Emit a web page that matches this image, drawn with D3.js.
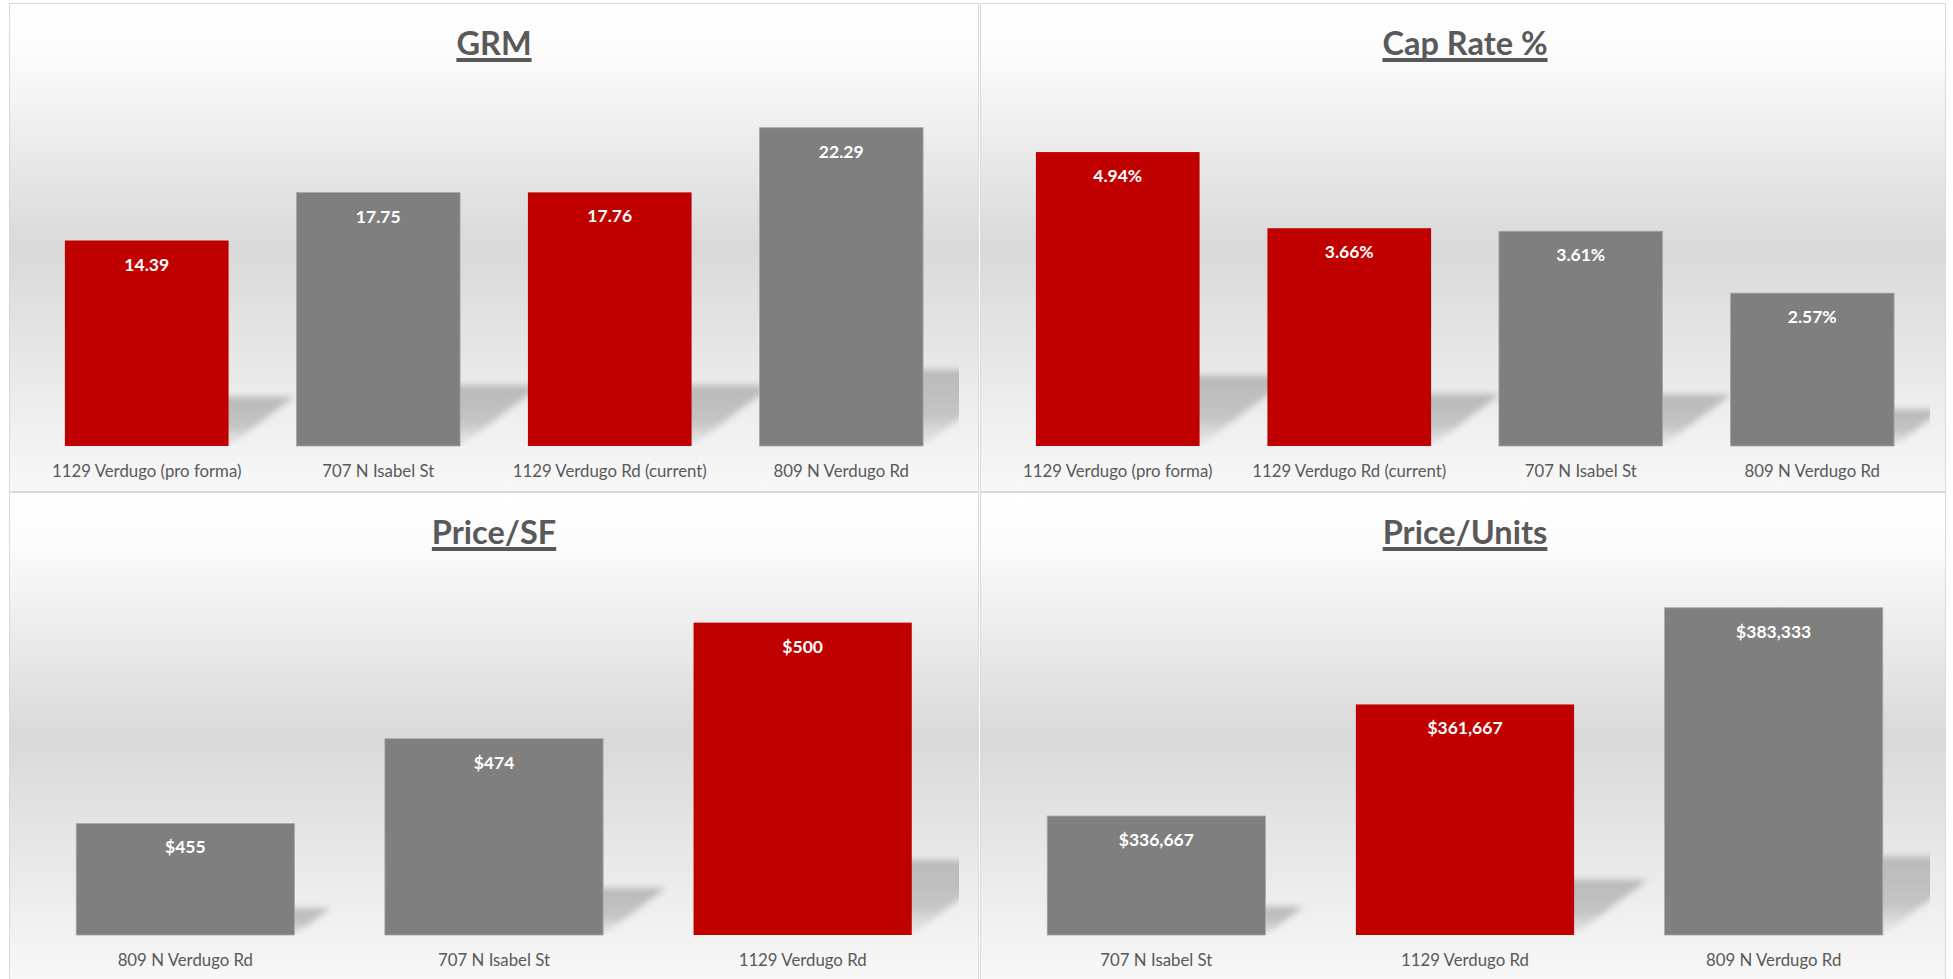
<!DOCTYPE html>
<html>
<head>
<meta charset="utf-8">
<title>Comparables</title>
<style>
  body { margin: 0; background: #ffffff; }
  svg { display: block; }
  text { font-family: Lato, "Open Sans", sans-serif; }
</style>
</head>
<body>
<div id="chart"></div>
<script src="https://d3js.org/d3.v7.min.js"></script>
<script>
// data
var grmCats = ["1129 Verdugo (pro forma)", "707 N Isabel St", "1129 Verdugo Rd (current)", "809 N Verdugo Rd"];
var grmValues = [14.39, 17.75, 17.76, 22.29];
var grmDomain = [0, 25];

var capCats = ["1129 Verdugo (pro forma)", "1129 Verdugo Rd (current)", "707 N Isabel St", "809 N Verdugo Rd"];
var capValues = [0.0494, 0.0366, 0.0361, 0.0257];
var capDomain = [0, 0.06];

var psfCats = ["809 N Verdugo Rd", "707 N Isabel St", "1129 Verdugo Rd"];
var psfValues = [455, 474, 500];
var psfDomain = [430, 510];

var puCats = ["707 N Isabel St", "1129 Verdugo Rd", "809 N Verdugo Rd"];
var puValues = [336667, 361667, 383333];
var puDomain = [310000, 390000];

// the subject property is drawn in red
var subjectCats = ["1129 Verdugo (pro forma)", "1129 Verdugo Rd (current)", "1129 Verdugo Rd"];

var W = 1953, H = 979;
var svg = d3.select("#chart").append("svg").attr("width", W).attr("height", H);
var defs = svg.append("defs");

var bg = defs.append("linearGradient").attr("id", "bg")
  .attr("x1", 0).attr("y1", 0).attr("x2", 0).attr("y2", 1);
bg.append("stop").attr("offset", "0%").attr("stop-color", "#ffffff");
bg.append("stop").attr("offset", "10%").attr("stop-color", "#fcfcfc");
bg.append("stop").attr("offset", "50%").attr("stop-color", "#d9d9d9");
bg.append("stop").attr("offset", "100%").attr("stop-color", "#f8f8f8");

var sg = defs.append("linearGradient").attr("id", "shade")
  .attr("x1", 0).attr("y1", 0).attr("x2", 0).attr("y2", 1);
sg.append("stop").attr("offset", "0%").attr("stop-color", "#b9b9b9");
sg.append("stop").attr("offset", "60%").attr("stop-color", "#c4c4c4");
sg.append("stop").attr("offset", "100%").attr("stop-color", "#dadada").attr("stop-opacity", 0.4);

defs.append("filter").attr("id", "blur")
  .attr("x", "-20%").attr("y", "-20%").attr("width", "140%").attr("height", "140%")
  .append("feGaussianBlur").attr("stdDeviation", 3);

var money = d3.format("$,.0f");

var panels = [
  { title: "GRM", cats: grmCats, values: grmValues, domain: grmDomain, fmt: d3.format(".2f"), x: 9, x2: 978, y: 3 },
  { title: "Cap Rate %", cats: capCats, values: capValues, domain: capDomain, fmt: d3.format(".2%"), x: 980, x2: 1945, y: 3 },
  { title: "Price/SF", cats: psfCats, values: psfValues, domain: psfDomain, fmt: money, x: 9, x2: 978, y: 492 },
  { title: "Price/Units", cats: puCats, values: puValues, domain: puDomain, fmt: money, x: 980, x2: 1945, y: 492 }
];

panels.forEach(function(p, k) {
  var g = svg.append("g");
  var pw = p.x2 - p.x;
  var ph = (k < 2 ? 488 : 490);

  g.append("rect")
    .attr("x", p.x + 0.5).attr("y", p.y + 0.5)
    .attr("width", pw).attr("height", ph)
    .attr("fill", "url(#bg)")
    .attr("stroke", "#d9d9d9").attr("stroke-width", 1);

  var left = p.x + 22, right = p.x + 948;
  var top = p.y + 86, base = p.y + 443;

  var x = d3.scaleBand().domain(p.cats).range([left, right])
    .paddingInner(0.293).paddingOuter(0.1465);
  var y = d3.scaleLinear().domain(p.domain).range([base, top]);

  var clipId = "clip" + k;
  defs.append("clipPath").attr("id", clipId)
    .append("rect").attr("x", left).attr("y", p.y).attr("width", right - left + 2).attr("height", base - p.y);

  var data = p.cats.map(function(c, i) { return { cat: c, v: p.values[i] }; });

  // perspective shadows
  g.append("g").attr("clip-path", "url(#" + clipId + ")")
    .selectAll("polygon").data(data).enter().append("polygon")
    .attr("points", function(d) {
      var x0 = x(d.cat), x1 = x0 + x.bandwidth();
      var h = base - y(d.v);
      var dx = 0.32 * h, dy = 0.24 * h;
      return [[x0, base], [x1, base], [x1 + dx, base - dy], [x0 + dx, base - dy]].join(" ");
    })
    .attr("fill", "url(#shade)")
    .attr("filter", "url(#blur)");

  g.selectAll("rect.bar").data(data).enter().append("rect")
    .attr("class", "bar")
    .attr("x", function(d) { return x(d.cat); })
    .attr("y", function(d) { return y(d.v); })
    .attr("width", x.bandwidth())
    .attr("height", function(d) { return base - y(d.v); })
    .attr("fill", function(d) { return subjectCats.indexOf(d.cat) >= 0 ? "#c00000" : "#7f7f7f"; })
    .attr("stroke", function(d) { return subjectCats.indexOf(d.cat) >= 0 ? "none" : "#a9a9a9"; })
    .attr("stroke-width", 0.8);

  g.selectAll("text.val").data(data).enter().append("text")
    .attr("class", "val")
    .attr("x", function(d) { return x(d.cat) + x.bandwidth() / 2; })
    .attr("y", function(d) { return y(d.v) + 30; })
    .attr("text-anchor", "middle")
    .attr("font-size", 17.5).attr("font-weight", "bold")
    .attr("fill", "#ffffff")
    .text(function(d) { return p.fmt(d.v); });

  g.selectAll("text.cat").data(data).enter().append("text")
    .attr("class", "cat")
    .attr("x", function(d) { return x(d.cat) + x.bandwidth() / 2; })
    .attr("y", base + 31)
    .attr("text-anchor", "middle")
    .attr("font-size", 16.8)
    .attr("fill", "#595959")
    .text(function(d) { return d.cat; });

  var cx = (left + right) / 2;
  var t = g.append("text")
    .attr("x", cx).attr("y", p.y + 52)
    .attr("text-anchor", "middle")
    .attr("font-size", 32.5).attr("font-weight", "bold")
    .attr("fill", "#595959")
    .text(p.title);
  var tw = t.node().getComputedTextLength();
  g.append("rect")
    .attr("x", cx - tw / 2).attr("y", p.y + 55)
    .attr("width", tw).attr("height", 4)
    .attr("fill", "#595959");
});
</script>
</body>
</html>
